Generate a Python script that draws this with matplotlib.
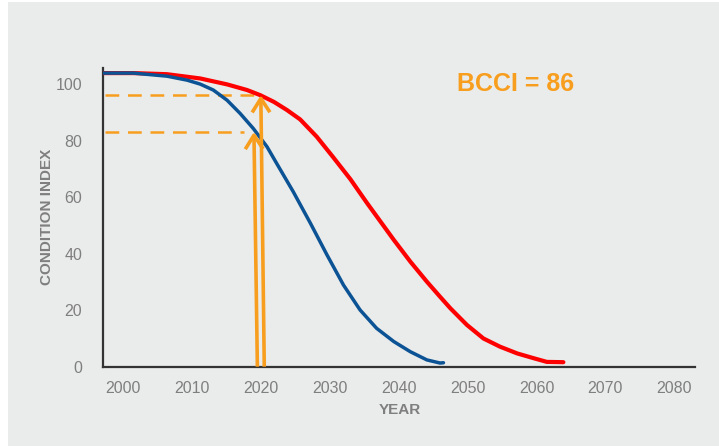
import matplotlib.pyplot as plt
from matplotlib.patches import Rectangle, FancyArrowPatch

# deterioration curves: condition index by year
blue_years = [1997.1, 2001.5, 2006.4, 2009.3, 2011.2, 2013.1, 2015.1, 2017.0, 2018.9,
              2020.9, 2022.3, 2024.7, 2027.2, 2029.6, 2032.0, 2034.4, 2036.8,
              2039.3, 2041.7, 2044.1, 2046.0, 2046.5]
blue_values = [104.0, 104.0, 102.9, 101.5, 100.1, 98.0, 94.4, 89.7, 84.4,
               77.9, 72.0, 62.0, 50.8, 39.6, 28.9, 20.1, 13.6,
               8.9, 5.3, 2.4, 1.3, 1.4]

red_years = [1997.1, 2001.5, 2006.4, 2011.2, 2015.1, 2018.0, 2019.9, 2021.9, 2023.8,
             2025.7, 2028.1, 2030.5, 2033.0, 2035.4, 2039.3, 2041.7,
             2044.1, 2046.0, 2047.5, 2049.9, 2052.3, 2054.7, 2057.2, 2059.6,
             2061.5, 2063.9]
red_values = [104.0, 104.0, 103.6, 102.1, 100.0, 98.0, 96.2, 93.8, 90.9,
              87.6, 81.5, 74.2, 66.4, 58.0, 44.9, 37.2,
              30.1, 24.8, 20.7, 14.8, 10.0, 7.1, 4.7, 3.0,
              1.7, 1.6]

# current condition
marker_years_bottom = [2019.5, 2020.5]
marker_years_top = [2019.0, 2020.0]
marker_levels = [83.2, 96.2]
dash_ends = [2017.5, 2019.9]

x_ticks = [2000, 2010, 2020, 2030, 2040, 2050, 2060, 2070, 2080]
y_ticks = [0, 20, 40, 60, 80, 100]

ORANGE = "#F89E1E"
GREY_TEXT = "#7F7F7F"
BG = "#EAEBEB"

plt.rcParams["font.family"] = ["Liberation Sans", "DejaVu Sans"]

fig = plt.figure(figsize=(7.19, 4.46), dpi=100)
fig.patch.set_facecolor("white")
fig.add_artist(Rectangle((8 / 719, 0), 1, 1 - 2 / 446, transform=fig.transFigure,
                         facecolor=BG, edgecolor="none", zorder=-10))

ax = fig.add_axes([103 / 719, 1 - 366.7 / 446, (695 - 103) / 719, (366.7 - 68) / 446])
ax.set_facecolor("none")

ax.plot(red_years, red_values, color="#FF0000", lw=3.0, solid_capstyle="round",
        solid_joinstyle="round", zorder=3)
ax.plot(blue_years, blue_values, color="#0B5394", lw=2.5, solid_capstyle="round",
        solid_joinstyle="round", zorder=3)

for level, end in zip(marker_levels, dash_ends):
    ax.plot([1997.4, end], [level, level], color=ORANGE, lw=1.8,
            dashes=(5.5, 3.5), zorder=2)

for xb, xt, level in zip(marker_years_bottom, marker_years_top, marker_levels):
    arrow = FancyArrowPatch((xb, 0), (xt, level), arrowstyle="->,head_length=0.5,head_width=0.32",
                            mutation_scale=20, color=ORANGE, lw=2.6, shrinkA=0, shrinkB=0,
                            capstyle="butt", zorder=4)
    ax.add_patch(arrow)

ax.text(2057, 100, "BCCI = 86", color=ORANGE, fontsize=18, fontweight="bold",
        ha="center", va="center")

ax.set_xlim(1997.1, 2083.0)
ax.set_ylim(0, 105.8)
ax.set_xticks(x_ticks)
ax.set_yticks(y_ticks)
ax.tick_params(length=0, labelsize=11.5, labelcolor=GREY_TEXT)
ax.tick_params(axis="y", pad=15)
ax.tick_params(axis="x", pad=10)

for side in ["top", "right"]:
    ax.spines[side].set_visible(False)
for side in ["left", "bottom"]:
    ax.spines[side].set_color("#333333")
    ax.spines[side].set_linewidth(1.6)

fig.text(47 / 719, 1 - 217 / 446, "CONDITION INDEX", rotation=90, fontsize=11,
         fontweight="bold", color=GREY_TEXT, ha="center", va="center")
fig.text(400 / 719, 1 - 410 / 446, "YEAR", fontsize=11, fontweight="bold",
         color=GREY_TEXT, ha="center", va="center")

fig.savefig("out.png", dpi=100)
